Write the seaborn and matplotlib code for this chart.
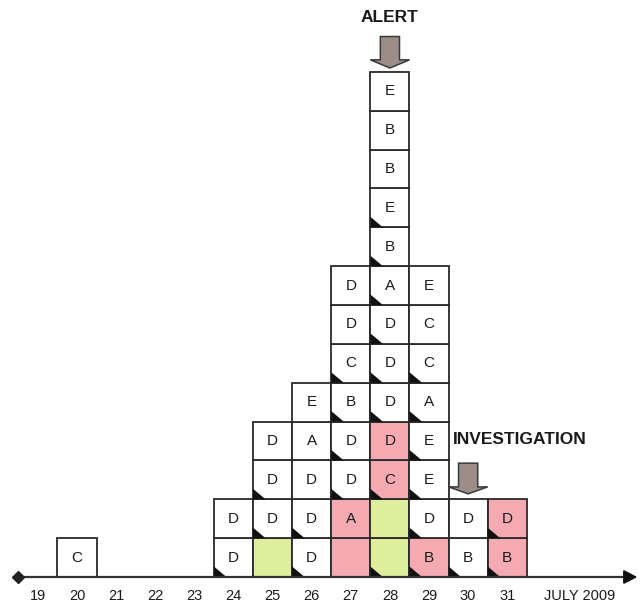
import numpy as np
import pandas as pd
import seaborn as sns
import matplotlib.pyplot as plt
from matplotlib.patches import Polygon

# one entry per case, listed bottom to top inside each day
case_day = [20,
            24, 24,
            25, 25, 25, 25,
            26, 26, 26, 26, 26,
            27, 27, 27, 27, 27, 27, 27, 27,
            28, 28, 28, 28, 28, 28, 28, 28, 28, 28, 28, 28, 28,
            29, 29, 29, 29, 29, 29, 29, 29,
            30, 30,
            31, 31]
case_label = ["C",
              "D", "D",
              "", "D", "D", "D",
              "D", "D", "D", "A", "E",
              "", "A", "D", "D", "B", "C", "D", "D",
              "", "", "C", "D", "D", "D", "D", "A", "B", "E", "B", "B", "E",
              "B", "D", "E", "E", "A", "C", "C", "E",
              "B", "D",
              "B", "D"]
case_fill = ["w",
             "w", "w",
             "g", "w", "w", "w",
             "w", "w", "w", "w", "w",
             "p", "p", "w", "w", "w", "w", "w", "w",
             "g", "g", "p", "p", "w", "w", "w", "w", "w", "w", "w", "w", "w",
             "p", "w", "w", "w", "w", "w", "w", "w",
             "w", "w",
             "p", "p"]
case_mark = [0,
             1, 0,
             0, 1, 1, 0,
             1, 1, 0, 0, 0,
             0, 0, 1, 1, 1, 1, 0, 0,
             1, 0, 1, 0, 1, 1, 1, 1, 1, 1, 0, 0, 0,
             1, 1, 1, 1, 1, 1, 0, 0,
             1, 0,
             1, 1]

tick_days = list(range(19, 32))
month_label = "JULY 2009"

fill_colors = {"w": "white", "p": "#F5AAB2", "g": "#DEEE9C"}

df = pd.DataFrame({"day": case_day, "label": case_label,
                   "fill": case_fill, "mark": case_mark})
df["case"] = ["c%02d" % i for i in range(len(df))]
df["row"] = df.groupby("day").cumcount()

sns.set_style("white")
plt.rcParams["font.family"] = ["Liberation Sans", "DejaVu Sans"]

fig = plt.figure(figsize=(6.41, 6.05), dpi=100)
ax = fig.add_axes([0, 0, 1, 1])

palette = dict(zip(df["case"], df["fill"].map(fill_colors)))
sns.histplot(data=df, x="day", hue="case", hue_order=list(df["case"])[::-1],
             palette=palette, multiple="stack", discrete=True, shrink=1,
             edgecolor="#2a2a2a", linewidth=1.3, alpha=1, legend=False, ax=ax)

# drop empty bars so they don't draw over the axis
for p in list(ax.patches):
    if p.get_height() == 0:
        p.remove()

# letters and the little black corner marks
for _, r in df.iterrows():
    if r["label"]:
        ax.text(r["day"], r["row"] + 0.5, r["label"], ha="center", va="center",
                fontsize=11, color="#1a1a1a", zorder=5)
    if r["mark"]:
        x0 = r["day"] - 0.5
        y0 = r["row"]
        ax.add_patch(Polygon([(x0, y0), (x0, y0 + 0.27), (x0 + 0.32, y0)],
                             closed=True, color="#111111", lw=0, zorder=4))

# time axis
ax.plot([18.49, 34.1], [0, 0], color="#333333", lw=1.6, zorder=6)
ax.plot([18.49], [0], marker="D", ms=6, color="#222222", zorder=7)
ax.add_patch(Polygon([(34.29, 0), (33.98, 0.16), (33.98, -0.16)],
                     closed=True, color="#111111", zorder=7))
for d in tick_days:
    ax.text(d, -0.5, str(d), ha="center", va="center", fontsize=10.5, color="#1a1a1a")
ax.text(32.86, -0.5, month_label, ha="center", va="center", fontsize=10.5, color="#1a1a1a")


def down_arrow(xc, top, base, tip):
    pts = [(xc - 0.245, top), (xc + 0.245, top), (xc + 0.245, base),
           (xc + 0.5, base), (xc, tip), (xc - 0.5, base), (xc - 0.245, base)]
    ax.add_patch(Polygon(pts, closed=True, facecolor="#9C8D89",
                         edgecolor="#3a3a3a", lw=1.1, zorder=6))


down_arrow(28, 13.91, 13.31, 13.10)
ax.text(28, 14.41, "ALERT", ha="center", va="center", fontsize=12.5,
        fontweight="bold", color="#1a1a1a")

down_arrow(30, 2.93, 2.32, 2.14)
ax.text(31.33, 3.55, "INVESTIGATION", ha="center", va="center", fontsize=12.5,
        fontweight="bold", color="#1a1a1a")

ax.set_xlim(18.03, 34.42)
ax.set_ylim(-0.72, 14.85)
ax.axis("off")

fig.savefig("out.png", dpi=100)
